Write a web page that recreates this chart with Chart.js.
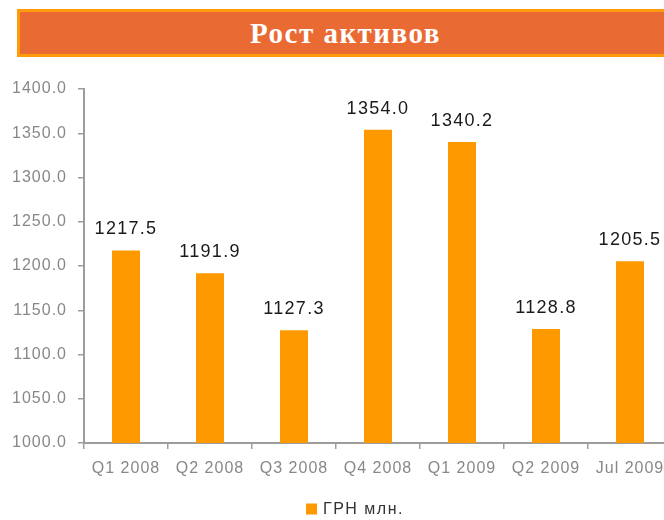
<!DOCTYPE html>
<html>
<head>
<meta charset="utf-8">
<script src="https://cdn.jsdelivr.net/npm/chart.js@4"></script>
<style>
  html, body { margin: 0; padding: 0; background: #fff; overflow: hidden; width: 664px; height: 520px; }
  #wrap { position: absolute; left: 0; top: 0; width: 700px; height: 520px; }
  #banner {
    position: absolute; left: 17px; top: 9px; width: 651px; height: 42px;
    background: #EA6A33; border: 3px solid #FF9A0A;
    color: #fff; font-family: "Liberation Serif", "Times New Roman", serif; font-weight: bold;
    font-size: 29px; letter-spacing: 1.5px; line-height: 42px; text-align: center; z-index: 2;
  }
</style>
</head>
<body>
<div id="banner">Рост активов</div>
<div id="wrap"><canvas id="c" width="700" height="520"></canvas></div>
<script>
const categories = ["Q1 2008", "Q2 2008", "Q3 2008", "Q4 2008", "Q1 2009", "Q2 2009", "Jul 2009"];
const values = [1217.5, 1191.9, 1127.3, 1354.0, 1340.2, 1128.8, 1205.5];
const seriesName = "ГРН млн.";
const yMin = 1000, yMax = 1400, yStep = 50;

const barColor = "#FF9900";
const axisColor = "#9d9d9d";

const spacingPlugin = {
  id: 'spacing',
  beforeDraw(chart) { chart.ctx.letterSpacing = '1px'; }
};

const valueLabels = {
  id: 'valueLabels',
  afterDatasetsDraw(chart) {
    const ctx = chart.ctx;
    const meta = chart.getDatasetMeta(0);
    ctx.save();
    ctx.letterSpacing = '1.3px';
    ctx.font = '18px "Liberation Sans", Arial, sans-serif';
    ctx.fillStyle = '#1a1a1a';
    ctx.textAlign = 'center';
    ctx.textBaseline = 'middle';
    meta.data.forEach((bar, i) => {
      ctx.fillText(values[i].toFixed(1), bar.x, bar.y - 21);
    });
    ctx.restore();
  }
};

const customLegend = {
  id: 'customLegend',
  afterDraw(chart) {
    const ctx = chart.ctx;
    ctx.save();
    ctx.letterSpacing = '1.5px';
    ctx.font = '16px "Liberation Sans", Arial, sans-serif';
    const label = chart.data.datasets[0].label;
    const tw = ctx.measureText(label).width;
    const box = 11, gap = 6;
    const total = box + gap + tw;
    const cx = 355;
    const x0 = cx - total / 2;
    const y = 509;
    ctx.fillStyle = chart.data.datasets[0].backgroundColor;
    ctx.fillRect(x0, y - box / 2, box, box);
    ctx.fillStyle = '#333';
    ctx.textAlign = 'left';
    ctx.textBaseline = 'middle';
    ctx.fillText(label, x0 + box + gap, y + 1);
    ctx.restore();
  }
};

new Chart(document.getElementById('c'), {
  type: 'bar',
  data: {
    labels: categories,
    datasets: [{
      label: seriesName,
      data: values,
      backgroundColor: barColor,
      borderWidth: 0,
      categoryPercentage: 1.0,
      barPercentage: 0.333
    }]
  },
  options: {
    responsive: false,
    animation: false,
    layout: { padding: { left: 0, right: 28, top: 89, bottom: 37 } },
    plugins: {
      legend: { display: false },
      tooltip: { enabled: false },
      title: { display: false }
    },
    scales: {
      x: {
        grid: { drawOnChartArea: false, drawTicks: true, tickLength: 6, color: axisColor, lineWidth: 1.5 },
        border: { display: true, color: axisColor, width: 2 },
        ticks: {
          color: '#888',
          font: { family: '"Liberation Sans", Arial, sans-serif', size: 16 },
          padding: 10,
          maxRotation: 0,
          autoSkip: false
        },
        afterFit(scale) { scale.height = 40; }
      },
      y: {
        min: yMin, max: yMax,
        grid: { drawOnChartArea: false, drawTicks: true, tickLength: 6, color: axisColor, lineWidth: 1.5 },
        border: { display: true, color: axisColor, width: 2 },
        ticks: {
          stepSize: yStep,
          color: '#888',
          font: { family: '"Liberation Sans", Arial, sans-serif', size: 16 },
          padding: 11,
          callback: v => Number(v).toFixed(1)
        },
        afterFit(scale) { scale.width = 84; }
      }
    }
  },
  plugins: [spacingPlugin, valueLabels, customLegend]
});
</script>
</body>
</html>
